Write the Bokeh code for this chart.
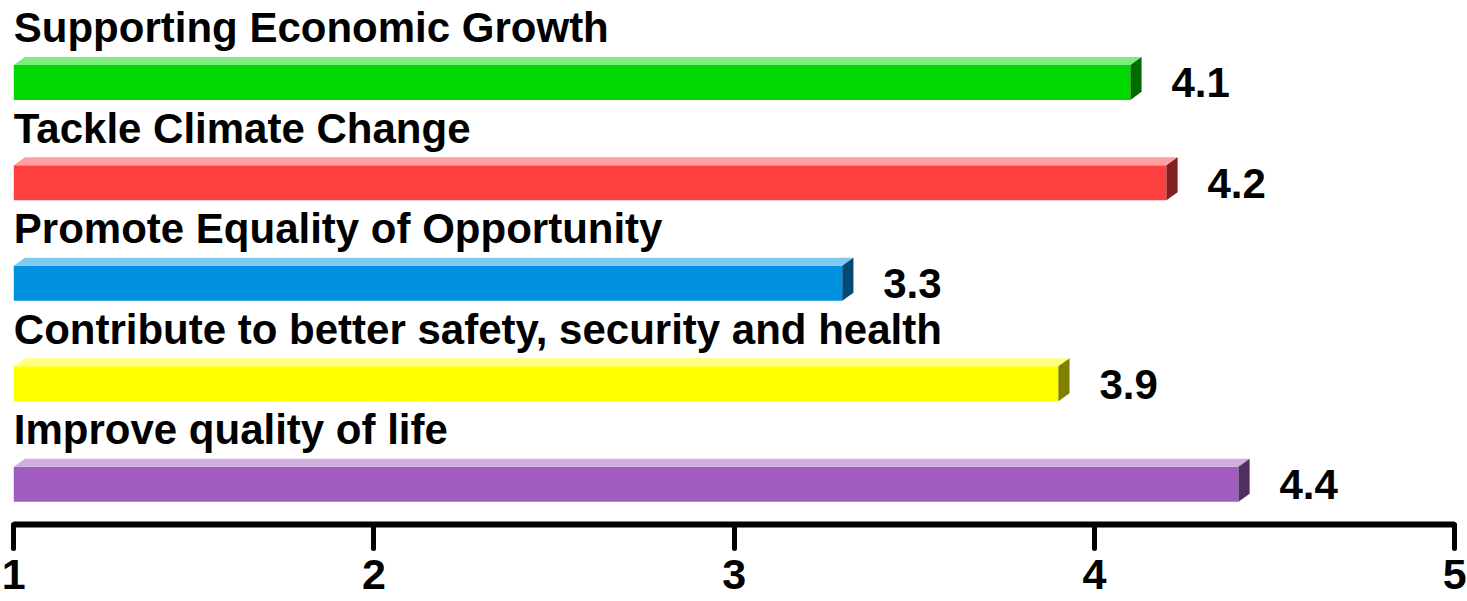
from bokeh.plotting import figure
from bokeh.models import Range1d, LinearAxis, FixedTicker
from bokeh.core.properties import value
from bokeh.embed import file_html
from bokeh.resources import INLINE

# ---- data ----
categories = [
    "Supporting Economic Growth",
    "Tackle Climate Change",
    "Promote Equality of Opportunity",
    "Contribute to better safety, security and health",
    "Improve quality of life",
]
scores = [4.1, 4.2, 3.3, 3.9, 4.4]
score_labels = ["4.1", "4.2", "3.3", "3.9", "4.4"]
front_colors = ["#00d800", "#ff4040", "#0090e0", "#ffff00", "#a05cbe"]
top_colors = ["#80ec80", "#ff9f9f", "#80c8f0", "#ffff80", "#d0aedf"]
side_colors = ["#006c00", "#802020", "#004a74", "#808000", "#502e5f"]
tick_values = [1, 2, 3, 4, 5]
scale_min = 1

# ---- style constants ----
FONT_NAME = "Liberation Sans"
FONT = value(FONT_NAME)
HALF = 0.174      # half bar thickness (row units)
DX = 0.031        # 3D depth in x (data units)
DY = 0.08         # 3D depth in y (row units)

rows = list(range(len(categories)))

p = figure(
    width=1467, height=601,
    x_range=Range1d(0.96308, 5.03582),
    y_range=Range1d(5.16775, -0.81533),
    output_backend="svg", toolbar_location=None,
    x_axis_type=None, y_axis_type=None,
    min_border=0, outline_line_color=None,
)
p.grid.visible = False

front_top = [r - HALF for r in rows]
front_bottom = [r + HALF for r in rows]

# front faces
p.quad(left=[scale_min] * len(rows), right=scores, top=front_top, bottom=front_bottom,
       fill_color=front_colors, line_color=None)

# top faces
top_xs = [[scale_min, scale_min + DX, v + DX, v] for v in scores]
top_ys = [[t, t - DY, t - DY, t] for t in front_top]
p.patches(top_xs, top_ys, fill_color=top_colors, line_color=None)

# side faces
side_xs = [[v, v + DX, v + DX, v] for v in scores]
side_ys = [[t, t - DY, b - DY, b] for t, b in zip(front_top, front_bottom)]
p.patches(side_xs, side_ys, fill_color=side_colors, line_color=None)

# category labels
p.text(x=[scale_min] * len(rows), y=front_top, text=categories,
       text_font=FONT, text_font_style="bold", text_font_size="42px",
       text_color="black", text_align="left", text_baseline="alphabetic",
       y_offset=-37)

# value labels
p.text(x=scores, y=front_bottom, text=score_labels,
       text_font=FONT, text_font_style="bold", text_font_size="42px",
       text_color="black", text_align="left", text_baseline="alphabetic",
       x_offset=41, y_offset=-17)

axis = LinearAxis(
    fixed_location=4.40129,
    bounds=(1, 5),
    ticker=FixedTicker(ticks=tick_values),
    axis_line_width=6, axis_line_color="black",
    major_tick_line_width=5, major_tick_line_color="black", major_tick_line_cap="round",
    major_tick_in=0, major_tick_out=24,
    minor_tick_line_color=None,
    major_label_text_font=FONT_NAME, major_label_text_font_style="bold",
    major_label_text_font_size="43px", major_label_text_color="black",
    major_label_standoff=11,
)
p.add_layout(axis, "below")

open("out.html", "w").write(file_html(p, INLINE))
